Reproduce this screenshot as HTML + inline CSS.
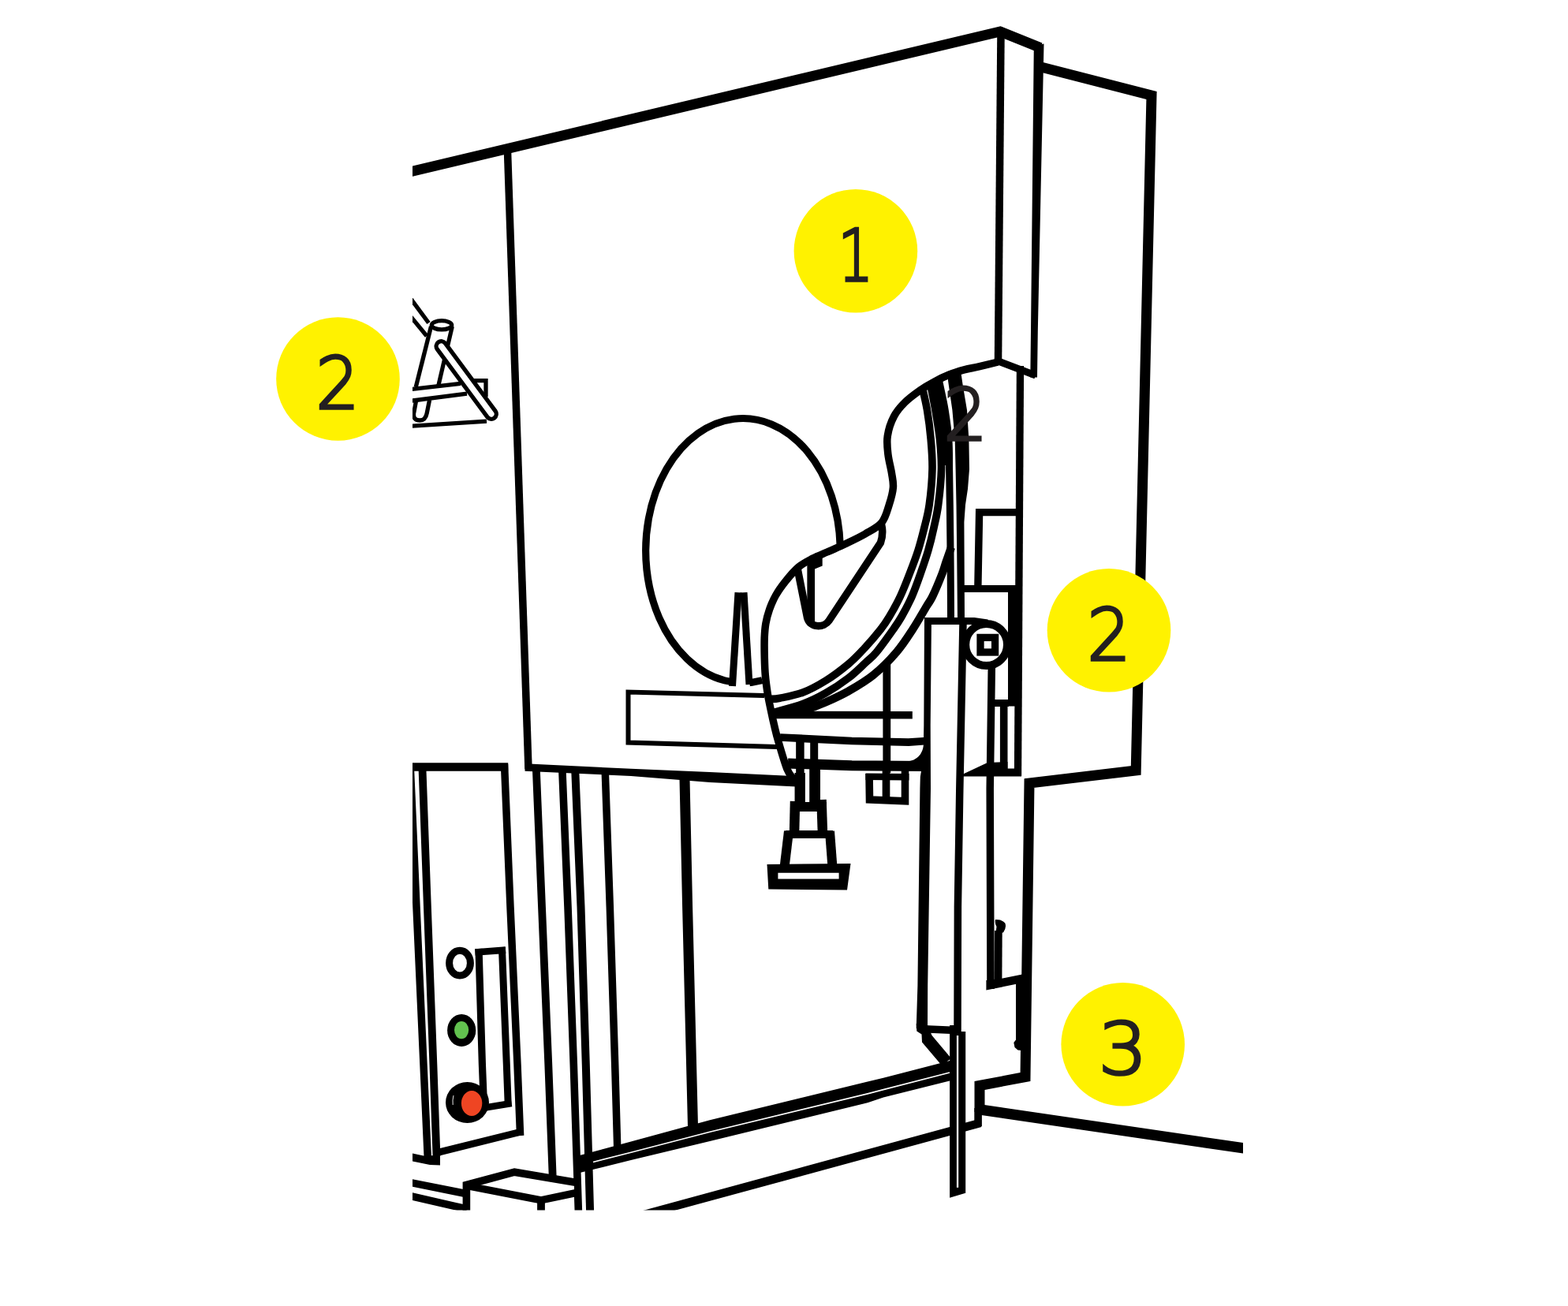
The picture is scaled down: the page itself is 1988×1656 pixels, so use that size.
<!DOCTYPE html>
<html lang="en">
<head>
<meta charset="utf-8">
<title>Diagram</title>
<style>
html,body{margin:0;padding:0;background:#fff;}
body{width:1988px;height:1656px;overflow:hidden;position:relative;}
svg{position:absolute;left:0;top:0;display:block;}
.n{font-family:"DejaVu Sans","Liberation Sans",sans-serif;font-weight:200;font-size:90px;fill:#231f20;stroke:#231f20;stroke-width:3.6;stroke-linejoin:miter;text-anchor:middle;}
</style>
</head>
<body>
<svg width="1988" height="1656" viewBox="0 0 1988 1656">
<defs><clipPath id="c"><rect x="523" y="0" width="1053" height="1534.5"/></clipPath></defs>
<rect width="1988" height="1656" fill="#fff"/>
<g clip-path="url(#c)" fill="none" stroke="#000" stroke-width="9.5" stroke-linejoin="miter" stroke-miterlimit="8">
<path d="M515,219 L1268,40 L1319,60.5" stroke-width="13"/>
<path d="M1269,42 L1265.5,458" stroke-width="9.5"/>
<path d="M1310.8,58 L1323.5,55.5 L1315.8,420 L1315,478.5 L1306.3,478.5 L1307,420Z" fill="#000" stroke="none"/>
<path d="M1263,457 L1313,476" stroke-width="9"/>
<path d="M643.5,192 L670,975" stroke-width="9.5"/>
<path d="M665.5,968.3 L800,974.7 L900,979 L1010,984.3 L1010,997.6 L900,992 L800,984 L665.5,977.8Z" fill="#000" stroke="none"/>
<path d="M1314,83.5 L1460,121 L1440.2,977 L1305,993 L1300,1365.5 L1242,1376.5 L1242,1410" stroke-width="13"/>
<path d="M1240.1,1405 L1240.1,1428" stroke-width="9.6"/>
<path d="M1242,1406.8 L1582,1456.7" stroke-width="13.3"/>
<path d="M1065.2,692 A123.3,167.7 0 1 0 966.4,862.6" stroke-width="9.2"/>
<path d="M936,755 L943,755 L951,874 L928,874Z" fill="#fff" stroke="none"/>
<path d="M936,751.3 L928.5,870" stroke-width="9"/>
<path d="M943,751.3 L950,868" stroke-width="9"/>
<path d="M969,882 L796.5,877.5 L796.5,941.5 L985,947" stroke-width="6"/>
<path d="M1265.4,459 C1261.3,460 1248.2,463.2 1241,464.9 C1233.8,466.5 1228.6,467.2 1222.4,468.9 C1216.2,470.6 1209.8,472.5 1203.6,475 C1197.3,477.5 1191.1,480.5 1184.9,483.9 C1178.7,487.2 1172.4,490.8 1166.2,495.1 C1160,499.5 1153,504.5 1147.5,510 C1142,515.5 1137.1,520.9 1133.4,528 C1129.7,535.1 1126.5,544.7 1125.3,552.7 C1124,560.7 1125,568.1 1125.9,576 C1126.8,583.9 1129.4,593 1130.5,600 C1131.6,607 1132.9,611.3 1132.4,618 C1131.9,624.7 1129.7,632.6 1127.3,640 C1124.9,647.4 1123,656.3 1118,662.5 C1113,668.7 1105.2,672.2 1097,677 C1088.8,681.8 1077,687.2 1069,691 C1061,694.8 1055.1,697.2 1048.7,700 C1042.3,702.8 1036.6,704.8 1030.6,708 C1024.6,711.2 1018.3,714.2 1012.5,719 C1006.7,723.8 1000.8,731 996,737 C991.2,743 986.9,749 983.5,755 C980.1,761 977.6,767 975.5,773 C973.4,779 971.8,785 970.8,791 C969.8,797 969.5,801.8 969.2,809 C969,816.2 969.1,826.7 969.3,834.5 C969.5,842.3 969.7,848.8 970.3,856 C970.9,863.2 971.9,870.7 973,878 C974.1,885.3 975.7,892.5 977.2,899.7 C978.7,906.9 980.4,914.7 982,921.4 C983.6,928.1 984.2,931.1 986.8,940 C989.4,948.9 994.6,967 997.8,975 C1001,983 1004.6,985.8 1006,988" stroke-width="9.5"/>
<path d="M1116,661 C1119,667 1120,678 1116.5,688 L1051,787 C1045,796 1027,797 1023.5,783 L1010.5,718" stroke-width="9.5"/>
<path d="M1028.2,714 L1028.2,788" stroke-width="9.7"/>
<path d="M1028,706 L1042.7,704 L1042.7,717.5 L1028,723.5Z" fill="#000" stroke="none"/>
<path d="M1169,490 C1170.1,495 1173.6,508.8 1175.5,520 C1177.4,531.2 1179.1,544.9 1180.2,557.4 C1181.3,569.9 1182.3,581.2 1182,595 C1181.7,608.8 1179.9,627.7 1178.2,640 C1176.5,652.3 1174.3,659.3 1171.9,669 C1169.5,678.7 1167.1,688.3 1164,698 C1160.9,707.7 1157.2,717.3 1153.4,727 C1149.7,736.7 1145.8,746.8 1141.5,756 C1137.2,765.2 1131.7,775 1127.5,782 C1123.3,789 1121.8,791.3 1116.6,798 C1111.3,804.7 1102.8,814.7 1096,822 C1089.2,829.3 1084.2,834.9 1076,841.7 C1067.8,848.5 1056.7,857 1047,863 C1037.3,869 1027.7,874.3 1018,878 C1008.3,881.7 996,883.8 989,885.2 C982,886.6 978.2,886.3 976,886.5" stroke-width="9.6"/>
<path d="M1179,484 C1180.2,490 1183.9,507.8 1186,520 C1188.1,532.2 1190.3,544.9 1191.6,557.4 C1192.8,569.9 1193.8,581.2 1193.5,595 C1193.2,608.8 1191.2,627.7 1189.6,640 C1188,652.3 1186.1,659.3 1184,669 C1181.9,678.7 1179.6,688.3 1176.8,698 C1174,707.7 1170.6,717.3 1167.2,727 C1163.8,736.7 1160.3,746.8 1156.3,756 C1152.3,765.2 1147,775 1143,782 C1139,789 1137.9,790.5 1132.6,798 C1127.3,805.5 1117,820 1111.2,827 C1105.4,834 1103.6,834.6 1097.7,840 C1091.8,845.4 1084.5,853 1076,859.5 C1067.5,866 1056.7,873.2 1047,878.7 C1037.3,884.2 1029,888.4 1018,892.5 C1007,896.6 987.2,901.5 981,903.3" stroke-width="9.7"/>
<path d="M1206,694 C1204.9,697.1 1201.4,707 1199.5,712.5 C1197.6,718 1197.5,719.8 1194.7,727 C1191.9,734.2 1185.8,749 1182.4,756 C1179.1,763 1178.8,762 1174.6,769 C1170.4,776 1163.5,788.3 1157.2,798 C1150.9,807.7 1144.9,817.3 1136.6,827 C1128.3,836.7 1117.3,847.8 1107.2,856 C1097.1,864.2 1086,870.5 1076,876.2 C1066,881.9 1056.3,886.2 1047,890.3 C1037.7,894.3 1027.8,898 1020,900.5 C1012.2,903 1003.3,904.7 1000,905.5" stroke-width="10.2"/>
<path d="M1190,480 C1190.4,482 1191.1,485.1 1192.5,491.8 C1193.9,498.5 1196.5,509.1 1198.2,520 C1199.9,530.9 1202,544.9 1202.9,557.4 C1203.8,569.9 1203.4,581.2 1203.6,595 C1203.8,608.8 1204.1,622.5 1204.3,640 C1204.5,657.5 1204.8,680 1205,700 C1205.2,720 1205.3,745.7 1205.4,760 C1205.5,774.3 1205.5,781.7 1205.5,786" stroke-width="9"/>
<path d="M1185,484 C1186.2,490 1190,507.8 1192,520 C1194,532.2 1196.1,545.7 1197.2,557.4 C1198.3,569.1 1198.3,584.6 1198.5,590" stroke-width="6"/>
<path d="M1201.5,477 L1218.6,474 L1220.5,487 L1226,520 L1228.4,557.4 L1229,595 L1227,620 L1224,640 L1222.4,662 L1222.6,700 L1223,786 L1214,786 L1213.2,700 L1212.5,640 L1211.6,595 L1210.7,557.4 L1207.4,520 L1202.2,484Z" fill="#000" stroke="none"/>
<path d="M1293.5,464 L1290.5,984" stroke-width="9.3"/>
<path d="M1239.8,747 L1241.6,649.6 L1295,649.6" stroke-width="9.4"/>
<path d="M1218,746.5 L1288,746.5" stroke-width="9"/>
<path d="M1283,746 L1283,895.5" stroke-width="10"/>
<path d="M1172.5,787.6 L1235,787.6 L1252,790" stroke-width="9"/>
<path d="M1172,783 L1181,783 L1179.7,920 L1180,1000 L1176.2,1250 L1176,1304 L1161.7,1304 L1163.4,1250 L1166.4,1000 L1166.8,985 L1170.5,962 L1171.3,920Z" fill="#000" stroke="none"/>
<path d="M1221,790 L1216.8,1000 L1214.4,1150 L1214,1308" stroke-width="9.5"/>
<circle cx="1250.6" cy="817.5" r="26.5" stroke-width="10.2"/>
<rect x="1243" y="808.4" width="18.6" height="18.6" stroke-width="9.3"/>
<path d="M1257.3,845 L1255.2,1000 L1256,1254" stroke-width="9.5"/>
<path d="M1257,891.5 L1279,891.5" stroke-width="9"/>
<path d="M1272.7,892 L1272.7,975" stroke-width="9.6"/>
<path d="M1219,982.5 L1252,967 L1277.5,966 L1277.5,974.5 L1295,974.5 L1295,984.5 L1219,984.5Z" fill="#000" stroke="none"/>
<path d="M983,906.5 L1156.8,906.8" stroke-width="9.6"/>
<path d="M1124.3,840 L1124.3,980" stroke-width="9.8"/>
<path d="M989,935 L1080,939.5 L1152,941.2 L1175,939.5" stroke-width="9.7"/>
<path d="M999,968 L1080,970.8 L1172,971.5" stroke-width="13"/>
<path d="M1150,965.6 Q1169,963.5 1171.4,943 L1173,967Z" fill="#000" stroke="none"/>
<path d="M1097.5,984.8 L1152.5,985.3" stroke-width="8.6"/>
<path d="M1102,981 L1102.5,1014 L1147.5,1015.8 L1147.5,975" stroke-width="9.6"/>
<path d="M1123.5,975 L1123.5,1015" stroke-width="9.7"/>
<path d="M1014.4,936 L1014.4,982" stroke-width="10.5"/>
<path d="M1032.2,936 L1032.2,982" stroke-width="10"/>
<path d="M1014.2,980 L1014.2,1022" stroke-width="13.3"/>
<path d="M1033.1,975 L1033.1,1022" stroke-width="13.8"/>
<path d="M1008,1016 L1007,1058" stroke-width="12.5"/>
<path d="M1041.5,1014 L1043,1058" stroke-width="12.5"/>
<path d="M1002,1023 L1048,1023" stroke-width="12"/>
<path d="M996,1058 L1056,1058" stroke-width="10"/>
<path d="M1000,1054 L994.5,1100" stroke-width="12"/>
<path d="M1052,1054 L1055.5,1100" stroke-width="12"/>
<path d="M972.5,1096 L1078.5,1095 L1074,1128.5 L974.3,1127.5Z M986.4,1106.7 L986.4,1114.6 L1063.6,1114.6 L1063.6,1106.7Z" fill="#000" fill-rule="evenodd" stroke="none"/>
<g stroke-width="5.3">
<path d="M520,377.6 L543.5,409.5"/>
<path d="M520,400.5 L541,426"/>
<path d="M546.5,414 L527.2,491"/>
<path d="M573.3,414 L555.8,489"/>
<ellipse cx="560" cy="412.3" rx="12.7" ry="5.6" fill="#fff"/>
<path d="M520,493.8 L584,486.3"/>
<path d="M520,508.4 L592,499.2"/>
<path d="M600,482.7 L616,482.7 L616,503"/>
<path d="M527.6,508 L524.6,524 Q523.6,533 532.3,533 Q539.5,533 541.2,524 L544.6,507"/>
<path d="M520,540.4 L617,534.1"/>
<path d="M559.5,439.1 L622.9,524.9" stroke-width="18" stroke-linecap="round"/>
<path d="M559.5,439.1 L622.9,524.9" stroke="#fff" stroke-width="7.4" stroke-linecap="round"/>
</g>
<path d="M515,972.5 L644.2,972.5" stroke-width="10.5"/>
<path d="M639.5,969 L647,1150 L656,1350 L659.6,1440" stroke-width="9.5"/>
<path d="M520.5,977 L528,1150 L537,1350 L542.3,1468" stroke-width="9.5"/>
<path d="M535.5,975 L541.9,1150 L549.4,1350 L553.5,1466" stroke-width="9.8"/>
<path d="M555,1461.3 L661,1435" stroke-width="9"/>
<path d="M520,1462 L537,1465.5 L558,1465 L558,1477.6 L545,1477 L520,1472Z" fill="#000" stroke="none"/>
<path d="M607,1203 L611.4,1350 L613,1390" stroke-width="9.2"/>
<path d="M602.4,1207.5 L641,1204.6" stroke-width="8.6"/>
<path d="M636.4,1201 L642.3,1350 L644.3,1403" stroke-width="9"/>
<path d="M615,1404.6 L648.6,1399" stroke-width="8.6"/>
<ellipse cx="583" cy="1221.2" rx="13.4" ry="15.9" stroke-width="9"/>
<ellipse cx="585.2" cy="1306.4" rx="18.1" ry="20.5" fill="#000" stroke="none"/>
<ellipse cx="585.1" cy="1306.1" rx="9.1" ry="11.2" fill="#62c24f" stroke="none"/>
<ellipse cx="592.5" cy="1398" rx="27.5" ry="26" fill="#000" stroke="none"/>
<ellipse cx="598.1" cy="1399" rx="13.2" ry="16" fill="#ef4523" stroke="none"/>
<path d="M575,1389 Q573.4,1395 574.2,1401" stroke="#fff" stroke-width="0.9"/>
<path d="M679.8,974 L687,1150 L695.3,1350 L700.7,1492" stroke-width="9.8"/>
<path d="M712.8,975 L720,1150 L727.3,1350 L733.5,1540" stroke-width="9.6"/>
<path d="M729.2,976 L736.5,1150 L742.8,1350 L748.2,1540" stroke-width="10"/>
<path d="M767.2,977 L773.3,1150 L779.7,1350 L782.8,1458" stroke-width="9.5"/>
<path d="M867.9,983 L871.6,1150 L878.6,1432" stroke-width="13"/>
<path d="M733,1465.5 L800,1447.5 L900,1420.3 L1100,1371.6 L1120,1366.7 L1208,1344 L1208,1369.5 L1120,1391.5 L1100,1398.2 L900,1447 L800,1471 L733,1487.6Z" fill="#000" stroke="none"/>
<path d="M752,1473.5 L800,1461.2 L900,1435.3 L1100,1386.8 L1120,1381.6 L1204,1360" stroke-width="1.7" stroke="#fff"/>
<path d="M805,1543.2 L1243,1423.9" stroke-width="10.5"/>
<path d="M518,1499 L588,1513" stroke-width="9.5"/>
<path d="M518,1516 L592,1533" stroke-width="9.5"/>
<path d="M590,1504 L652,1487 L728,1499 L728,1513 L686,1521.5Z" fill="#fff" stroke="none"/>
<path d="M591.4,1540 L591.4,1502.5 L652.3,1486.2 L731,1499.5" stroke-width="9.6"/>
<path d="M594,1504 L686,1521.8 L731,1512.3" stroke-width="9.4"/>
<path d="M686,1519 L686,1540" stroke-width="9.8"/>
<path d="M1166,1304.6 L1212,1306.6" stroke-width="9.5"/>
<path d="M1161.7,1298 L1162.3,1307.5 L1168.5,1311.5 L1169,1321.4 L1194,1351 L1206,1342 L1181.6,1313 L1176,1300Z" fill="#000" stroke="none"/>
<path d="M1204.1,1300 L1213.4,1300 L1213.4,1308 L1224.2,1308 L1224.2,1512.8 L1204.1,1518.8Z" fill="#000" stroke="none"/>
<path d="M1212.9,1313 L1212.9,1505.8 L1215.2,1505.8 L1215.2,1313Z" fill="#fff" stroke="none"/>
<path d="M1250.4,1255.5 L1250.4,1243 L1269.8,1240.8 L1296,1235.5 L1296,1246.3Z" fill="#000" stroke="none"/>
<path d="M1288,1247.5 L1296,1240 L1296,1332 L1290.5,1331.5 L1286.5,1328 L1285.3,1322 L1288,1318.5Z" fill="#000" stroke="none"/>
<path d="M1265.9,1180 L1265.6,1243" stroke-width="9.6"/>
<path d="M1262,1166 Q1270,1165.5 1274.3,1170.5 Q1276.5,1176 1272,1182.5 L1262.5,1183 L1263.5,1175 Q1261,1171 1262,1166Z" fill="#000" stroke="none"/>
</g>
<g>
<text class="n" transform="translate(1224,558.3) scale(0.96,1)">2</text>
<circle cx="1084.9" cy="318.2" r="78.3" fill="#fff200"/>
<text class="n" transform="translate(1084.9,355.7) scale(0.78,1)">1</text>
<circle cx="428.5" cy="480.5" r="78.3" fill="#fff200"/>
<text class="n" transform="translate(427.9,518) scale(0.96,1)">2</text>
<circle cx="1406" cy="799.3" r="78.3" fill="#fff200"/>
<text class="n" transform="translate(1406,836.8) scale(0.96,1)">2</text>
<circle cx="1423.7" cy="1324.3" r="78.3" fill="#fff200"/>
<text class="n" transform="translate(1423.6,1361.8) scale(1.08,1)">3</text>
</g>
</svg>
</body>
</html>
